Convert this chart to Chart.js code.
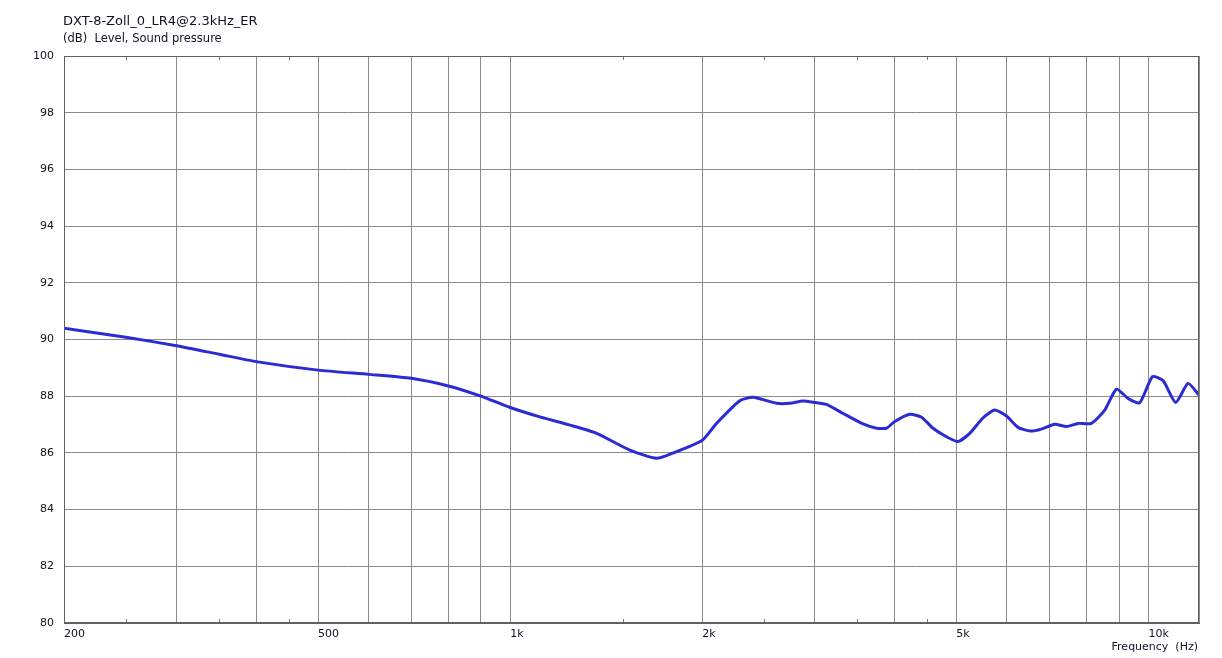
<!DOCTYPE html>
<html>
<head>
<meta charset="utf-8">
<script src="https://cdn.jsdelivr.net/npm/chart.js@4/dist/chart.umd.min.js"></script>
<style>
html,body{margin:0;padding:0;background:#fff;}
canvas{display:block;}
</style>
</head>
<body>
<canvas id="c" width="1222" height="658"></canvas>
<script>
// ---- data ----
const chartTitle = "DXT-8-Zoll_0_LR4@2.3kHz_ER";
const yAxisTitle = "(dB)  Level, Sound pressure";
const xAxisTitle = "Frequency  (Hz)";

const freqHz = [200, 250, 300, 350, 400, 500, 600, 700, 800, 900, 1000, 1113, 1240, 1366, 1540, 1696, 1792, 2000, 2105, 2290, 2402, 2614, 2742, 2876, 3000, 3130, 3324, 3572, 3750, 3887, 4000, 4228, 4411, 4598, 4826, 5032, 5248, 5508, 5744, 5992, 6248, 6534, 6798, 7134, 7440, 7758, 8140, 8542, 8910, 9290, 9690, 10144, 10540, 11034, 11536, 12000];
const levelDb = [90.40, 90.08, 89.78, 89.48, 89.22, 88.92, 88.77, 88.63, 88.36, 88.00, 87.60, 87.27, 86.98, 86.69, 86.10, 85.81, 85.98, 86.45, 87.04, 87.84, 87.96, 87.75, 87.75, 87.83, 87.78, 87.71, 87.39, 87.02, 86.87, 86.87, 87.10, 87.36, 87.26, 86.87, 86.57, 86.40, 86.69, 87.24, 87.51, 87.30, 86.90, 86.77, 86.84, 87.01, 86.93, 87.04, 87.04, 87.51, 88.25, 87.92, 87.77, 88.69, 88.55, 87.78, 88.45, 88.04];

const xGridTicks = [200, 300, 400, 500, 600, 700, 800, 900, 1000, 2000, 3000, 4000, 5000, 6000, 7000, 8000, 9000, 10000, 12000];
const xLabelMap = {200: "200", 500: "500", 1000: "1k", 2000: "2k", 5000: "5k", 10000: "10k"};
const xMinorTicks = [250, 350, 450, 1500, 2500, 3500, 4500];
const yMin = 80, yMax = 100, yStep = 2;

const FONT = "'DejaVu Sans', Verdana, sans-serif";
const TXT = "#111122";

const points = freqHz.map((f, i) => ({x: f, y: levelDb[i]}));

const decorPlugin = {
  id: 'decor',
  afterDraw(chart) {
    const ctx = chart.ctx;
    const xs = chart.scales.x;
    const a = chart.chartArea;
    ctx.save();
    ctx.strokeStyle = "#777";
    ctx.lineWidth = 1;
    xMinorTicks.forEach(v => {
      const px = Math.round(xs.getPixelForValue(v)) + 0.5;
      ctx.beginPath();
      ctx.moveTo(px, a.bottom); ctx.lineTo(px, a.bottom - 4);
      ctx.moveTo(px, a.top); ctx.lineTo(px, a.top + 4);
      ctx.stroke();
    });
    ctx.strokeStyle = "#606060";
    ctx.strokeRect(Math.round(a.left) + 0.5, Math.round(a.top) + 0.5, Math.round(a.right - a.left) - 1, Math.round(a.bottom - a.top) - 1);
    ctx.fillStyle = TXT;
    ctx.textBaseline = "middle";
    ctx.textAlign = "left";
    ctx.font = "13px " + FONT;
    ctx.fillText(chartTitle, 63, 22);
    ctx.font = "11.5px " + FONT;
    ctx.fillText(yAxisTitle, 63, 39);
    ctx.textAlign = "right";
    ctx.font = "11px " + FONT;
    ctx.fillText(xAxisTitle, 1198, 647);
    ctx.restore();
  }
};

new Chart(document.getElementById('c'), {
  type: 'line',
  data: {
    datasets: [{
      data: points,
      borderColor: "#2b2bd6",
      borderWidth: 3,
      pointRadius: 0,
      tension: 0.2,
      fill: false
    }]
  },
  options: {
    responsive: false,
    animation: false,
    devicePixelRatio: 1,
    layout: {padding: {left: 0, top: 56, right: 23, bottom: 0}},
    plugins: {legend: {display: false}, tooltip: {enabled: false}},
    scales: {
      x: {
        type: 'logarithmic',
        min: 200, max: 12000,
        afterBuildTicks(scale) { scale.ticks = xGridTicks.map(v => ({value: v})); },
        afterFit(scale) { scale.height = 35; scale.paddingLeft = 0; scale.paddingRight = 0; },
        grid: {color: "#8a8a8a", lineWidth: 1, drawTicks: false},
        border: {display: true, color: "#606060"},
        ticks: {
          autoSkip: false, maxRotation: 0, minRotation: 0,
          align: 'start', padding: 5,
          color: TXT, font: {family: FONT, size: 11},
          callback(v) { return xLabelMap[v] || ''; }
        }
      },
      y: {
        min: yMin, max: yMax,
        afterFit(scale) { scale.width = 64; },
        grid: {color: "#8a8a8a", lineWidth: 1, drawTicks: false},
        border: {display: true, color: "#606060"},
        ticks: {
          stepSize: yStep, padding: 10,
          color: TXT, font: {family: FONT, size: 11}
        }
      }
    }
  },
  plugins: [decorPlugin]
});
</script>
</body>
</html>
